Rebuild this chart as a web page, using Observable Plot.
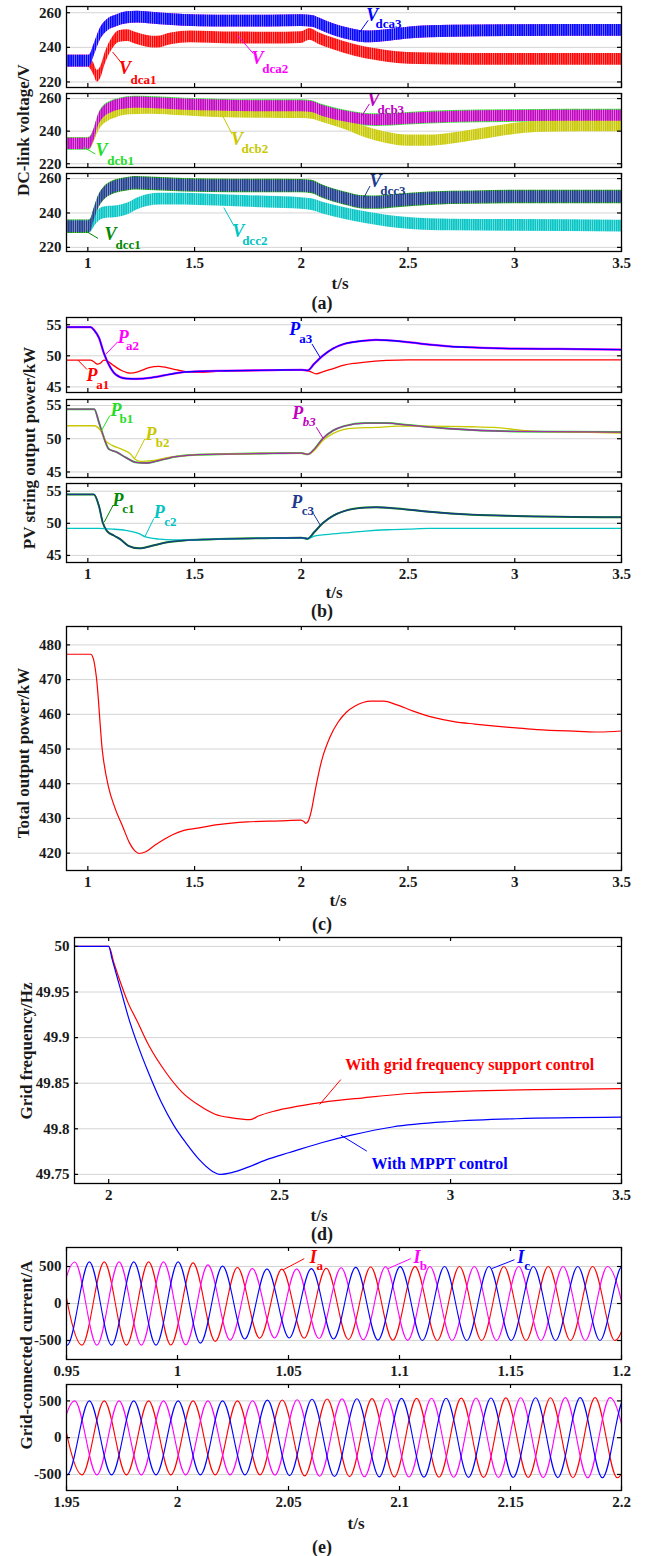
<!DOCTYPE html>
<html><head><meta charset="utf-8">
<script src="https://cdn.jsdelivr.net/npm/d3@7"></script>
<script src="https://cdn.jsdelivr.net/npm/@observablehq/plot@0.6"></script>
<style>
body{margin:0;background:#fff;}
#root{position:relative;width:649px;height:1556px;font-family:"Liberation Serif","Times New Roman",serif;font-weight:bold;color:#1a1a1a;overflow:hidden;}
.t{position:absolute;white-space:nowrap;transform:translate(-50%,-50%);line-height:1;}
.r{transform:translate(-50%,-50%) rotate(-90deg);}
</style></head>
<body><div id="root"></div>
<script>
// ---------------- DATA ----------------
const tickT = [1, 1.5, 2, 2.5, 3, 3.5];
const tickVdc = [220, 240, 260];
const tickP = [45, 50, 55];
const tickTotal = [420, 430, 440, 450, 460, 470, 480];
const tickFreq = [49.75, 49.8, 49.85, 49.9, 49.95, 50];
const tickTD = [2, 2.5, 3, 3.5];
const tickI = [-500, 0, 500];
const tickTE1 = [0.95, 1, 1.05, 1.1, 1.15, 1.2];
const tickTE2 = [1.95, 2, 2.05, 2.1, 2.15, 2.2];
const rippleVdc = 3.4; // half-width of DC-link ripple band (V)

// (a) DC-link voltages [t, V]
const vdca1 = [[0.9,232],[1.0,232],[1.009,231.5],[1.028,227.4],[1.044,223.3],[1.06,225.4],[1.083,234.2],[1.114,242],[1.145,246.2],[1.184,246.8],[1.23,245],[1.278,243.5],[1.325,243],[1.39,244.9],[1.48,246.1],[1.575,245.8],[1.7,245.4],[1.85,245.3],[2.0,245.6],[2.04,247.5],[2.08,245.2],[2.15,242],[2.25,238.3],[2.35,235.8],[2.45,234.1],[2.55,233.5],[2.8,233.1],[3.2,233],[3.5,233.1]];
const vdca2 = [[0.9,232],[1.0,232],[1.009,232.3],[1.028,238],[1.059,247.8],[1.09,252.6],[1.137,255.5],[1.184,257.1],[1.23,257.5],[1.34,256.5],[1.45,255.6],[1.6,255.2],[1.85,255.2],[2.0,255.4],[2.05,255],[2.1,252.7],[2.15,250.2],[2.2,248.3],[2.25,246.9],[2.3,246.1],[2.35,246.2],[2.4,246.8],[2.5,248.2],[2.7,249.3],[3.0,249.7],[3.5,249.8]];
const vdca3 = [[0.9,232],[1.0,232],[1.009,232.3],[1.028,238],[1.059,247.8],[1.09,252.6],[1.137,255.5],[1.184,257.1],[1.23,257.5],[1.34,256.5],[1.45,255.6],[1.6,255.2],[1.85,255.2],[2.0,255.4],[2.05,255],[2.1,252.7],[2.15,250.2],[2.2,248.3],[2.25,246.9],[2.3,246.1],[2.35,246.2],[2.4,246.8],[2.5,248.2],[2.7,249.3],[3.0,249.7],[3.5,249.8]];
const vdcb1 = [[0.9,232.2],[1.0,232.2],[1.009,232.5],[1.028,237.3],[1.05,246.6],[1.075,251.8],[1.106,254.4],[1.153,256.5],[1.216,257.5],[1.29,257.3],[1.45,256.3],[1.6,255.7],[1.84,255.3],[2.0,255.3],[2.05,254.8],[2.1,252.4],[2.2,249.1],[2.3,247],[2.35,246.7],[2.5,247.6],[2.7,248.7],[3.0,249.3],[3.5,249.5]];
const vdcb2 = [[0.9,232.2],[1.0,232.2],[1.02,234.2],[1.044,241.4],[1.067,246.6],[1.098,249.7],[1.137,251.8],[1.2,253.4],[1.29,253.8],[1.45,252.8],[1.6,251.8],[1.84,251.3],[2.0,251.1],[2.05,250.7],[2.1,248.7],[2.2,244.5],[2.3,239.4],[2.4,235.9],[2.5,234.2],[2.6,234.2],[2.7,235.3],[2.8,237.3],[2.9,239.4],[3.0,241.4],[3.1,242.5],[3.3,243.1],[3.5,243.1]];
const vdcb3 = [[0.9,232.2],[1.0,232.2],[1.009,232.5],[1.028,237.3],[1.05,246.6],[1.075,251.8],[1.106,254.4],[1.153,256.5],[1.216,257.5],[1.29,257.3],[1.45,256.3],[1.6,255.7],[1.84,255.3],[2.0,255.3],[2.05,254.8],[2.1,252.4],[2.2,249.1],[2.3,247],[2.35,246.7],[2.5,247.6],[2.7,248.7],[3.0,249.3],[3.5,249.5]];
const vdcc1 = [[0.9,232],[1.0,232],[1.0125,232.5],[1.028,238.3],[1.05,246.2],[1.075,251.1],[1.114,254.5],[1.17,256.4],[1.23,257.3],[1.29,257],[1.45,256.1],[1.68,255.7],[2.0,255.6],[2.05,255.1],[2.1,252.4],[2.2,248.5],[2.3,246.1],[2.35,246],[2.45,247],[2.6,248.3],[2.8,248.9],[3.0,249.3],[3.5,249.3]];
const vdcc2 = [[0.9,232],[1.0,232],[1.0125,232.3],[1.036,236.3],[1.06,239.3],[1.09,240.3],[1.1375,240.8],[1.184,242.2],[1.23,245.2],[1.278,247.2],[1.34,248],[1.45,248],[1.6,247.4],[1.84,246.3],[2.0,245.5],[2.05,244.8],[2.1,242.8],[2.2,239.8],[2.3,237.3],[2.4,235.3],[2.5,234],[2.7,233],[3.0,232.8],[3.5,232.4]];
const vdcc3 = [[0.9,232],[1.0,232],[1.0125,232.5],[1.028,238.3],[1.05,246.2],[1.075,251.1],[1.114,254.5],[1.17,256.4],[1.23,257.3],[1.29,257],[1.45,256.1],[1.68,255.7],[2.0,255.6],[2.05,255.1],[2.1,252.4],[2.2,248.5],[2.3,246.1],[2.35,246],[2.45,247],[2.6,248.3],[2.8,248.9],[3.0,249.3],[3.5,249.3]];

// (b) PV string output power [t, kW]
const pa1 = [[0.9,49.3],[1.0125,49.3],[1.03,49.0],[1.044,48.65],[1.06,48.85],[1.075,49.3],[1.09,49.2],[1.114,48.6],[1.16,47.6],[1.2,47.2],[1.24,47.5],[1.286,48.1],[1.333,48.3],[1.395,47.9],[1.458,47.45],[1.52,47.35],[1.6,47.5],[1.8,47.65],[2.0,47.7],[2.04,47.5],[2.07,47.1],[2.1,47.4],[2.15,47.95],[2.2,48.5],[2.25,48.8],[2.3,49.0],[2.4,49.25],[2.5,49.35],[3.5,49.35]];
const pa2 = [[0.9,54.6],[1.0125,54.6],[1.03,54.1],[1.052,52.9],[1.075,50.45],[1.098,48.6],[1.13,47.0],[1.177,46.35],[1.223,46.3],[1.3,46.5],[1.38,47.0],[1.44,47.35],[1.52,47.5],[1.645,47.6],[1.864,47.7],[2.0,47.75],[2.03,47.65],[2.06,48.7],[2.1,50.0],[2.15,51.2],[2.2,51.9],[2.3,52.45],[2.35,52.55],[2.4,52.5],[2.5,52.2],[2.6,51.8],[2.7,51.5],[2.8,51.35],[3.0,51.15],[3.2,51.1],[3.5,51.0]];
const pa3 = [[0.9,54.6],[1.0125,54.6],[1.03,54.1],[1.052,52.9],[1.075,50.45],[1.098,48.6],[1.13,47.0],[1.177,46.35],[1.223,46.3],[1.3,46.5],[1.38,47.0],[1.44,47.35],[1.52,47.5],[1.645,47.6],[1.864,47.7],[2.0,47.75],[2.03,47.65],[2.06,48.7],[2.1,50.0],[2.15,51.2],[2.2,51.9],[2.3,52.45],[2.35,52.55],[2.4,52.5],[2.5,52.2],[2.6,51.8],[2.7,51.5],[2.8,51.35],[3.0,51.15],[3.2,51.1],[3.5,51.0]];
const pb1 = [[0.9,54.45],[1.03,54.45],[1.052,52.45],[1.067,50.95],[1.083,49.45],[1.098,48.45],[1.13,48.05],[1.177,47.2],[1.223,46.45],[1.27,46.35],[1.33,46.7],[1.41,47.3],[1.49,47.55],[1.65,47.7],[1.87,47.8],[2.0,47.85],[2.03,47.65],[2.06,48.4],[2.1,50.0],[2.15,51.25],[2.2,51.9],[2.3,52.35],[2.4,52.35],[2.5,52.05],[2.7,51.5],[3.0,51.1],[3.5,51.0]];
const pb2 = [[0.9,51.95],[1.028,51.95],[1.06,51.2],[1.083,49.7],[1.114,49.0],[1.16,48.4],[1.2,47.7],[1.22,46.95],[1.247,46.6],[1.3,46.7],[1.38,47.2],[1.49,47.55],[1.65,47.7],[1.87,47.8],[2.0,47.8],[2.03,47.65],[2.06,48.2],[2.1,49.7],[2.15,50.8],[2.2,51.4],[2.25,51.6],[2.35,51.7],[2.45,51.9],[2.6,51.9],[2.8,51.8],[2.9,51.7],[3.1,51.1],[3.3,51.0],[3.5,50.85]];
const pb3 = [[0.9,54.45],[1.03,54.45],[1.052,52.45],[1.067,50.95],[1.083,49.45],[1.098,48.45],[1.13,48.05],[1.177,47.2],[1.223,46.45],[1.27,46.35],[1.33,46.7],[1.41,47.3],[1.49,47.55],[1.65,47.7],[1.87,47.8],[2.0,47.85],[2.03,47.65],[2.06,48.4],[2.1,50.0],[2.15,51.25],[2.2,51.9],[2.3,52.35],[2.4,52.35],[2.5,52.05],[2.7,51.5],[3.0,51.1],[3.5,51.0]];
const pc1 = [[0.9,54.5],[1.028,54.5],[1.052,52.7],[1.07,50.1],[1.09,48.8],[1.122,48.1],[1.153,47.5],[1.19,46.5],[1.24,46.1],[1.3,46.5],[1.364,47.0],[1.458,47.35],[1.567,47.5],[1.86,47.7],[2.0,47.75],[2.03,47.6],[2.06,48.6],[2.1,50.0],[2.15,51.2],[2.2,51.9],[2.3,52.45],[2.35,52.5],[2.45,52.3],[2.6,51.8],[2.8,51.35],[3.0,51.15],[3.5,50.95]];
const pc2 = [[0.9,49.2],[1.05,49.2],[1.114,49.1],[1.177,48.9],[1.24,48.4],[1.27,47.9],[1.333,47.55],[1.364,47.45],[1.45,47.4],[1.6,47.55],[1.86,47.7],[2.0,47.75],[2.03,47.6],[2.06,48.0],[2.1,48.2],[2.2,48.5],[2.3,48.8],[2.4,49.0],[2.5,49.1],[2.6,49.2],[3.5,49.2]];
const pc3 = [[0.9,54.5],[1.028,54.5],[1.052,52.7],[1.07,50.1],[1.09,48.8],[1.122,48.1],[1.153,47.5],[1.19,46.5],[1.24,46.1],[1.3,46.5],[1.364,47.0],[1.458,47.35],[1.567,47.5],[1.86,47.7],[2.0,47.75],[2.03,47.6],[2.06,48.6],[2.1,50.0],[2.15,51.2],[2.2,51.9],[2.3,52.45],[2.35,52.5],[2.45,52.3],[2.6,51.8],[2.8,51.35],[3.0,51.15],[3.5,50.95]];

// (c) total output power [t, kW]
const pTotal = [[0.9,477.3],[1.013,477.3],[1.025,476.2],[1.04,470.7],[1.068,449.5],[1.097,439],[1.126,433.2],[1.165,427.4],[1.194,423.1],[1.223,420.5],[1.242,419.9],[1.271,420.4],[1.31,422.1],[1.358,424],[1.397,425.3],[1.446,426.5],[1.514,427.2],[1.61,428.2],[1.746,429],[1.9,429.3],[1.998,429.5],[2.012,429.1],[2.021,428.6],[2.033,429.3],[2.047,432.2],[2.066,438.4],[2.095,446.6],[2.134,453.4],[2.172,457.7],[2.211,460.6],[2.25,462.3],[2.289,463.4],[2.327,463.8],[2.386,463.8],[2.444,462.8],[2.521,461],[2.618,459.1],[2.715,457.9],[2.812,457.2],[2.909,456.6],[3.006,456.1],[3.103,455.6],[3.297,455.1],[3.393,454.9],[3.5,455.2]];

// (d) grid frequency [t, Hz]
const fSupport = [[1.9,50],[2.0,50],[2.016,49.981],[2.034,49.961],[2.058,49.937],[2.082,49.919],[2.118,49.891],[2.167,49.862],[2.215,49.84],[2.263,49.826],[2.311,49.816],[2.36,49.812],[2.414,49.81],[2.438,49.814],[2.48,49.819],[2.529,49.823],[2.625,49.829],[2.746,49.834],[2.89,49.839],[3.072,49.8415],[3.253,49.843],[3.5,49.844]];
const fMppt = [[1.9,50],[2.0,50],[2.01,49.986],[2.022,49.97],[2.04,49.946],[2.058,49.922],[2.082,49.895],[2.118,49.86],[2.154,49.829],[2.19,49.804],[2.227,49.784],[2.263,49.767],[2.305,49.753],[2.323,49.75],[2.36,49.752],[2.408,49.758],[2.468,49.767],[2.529,49.774],[2.625,49.785],[2.71,49.793],[2.83,49.802],[3.0,49.808],[3.192,49.811],[3.5,49.8127]];

// (e) grid-connected currents: successive peaks/troughs [t, A]
const iaE1 = [[0.947,562],[0.957,-562],[0.967,562],[0.977,-562],[0.987,562],[0.997,-561],[1.007,549],[1.017,-512],[1.027,487],[1.037,-470],[1.047,465],[1.057,-470],[1.067,477],[1.077,-486],[1.087,493],[1.097,-497],[1.107,499],[1.117,-500],[1.127,500],[1.137,-500],[1.147,500],[1.157,-500],[1.167,500],[1.177,-500],[1.187,500],[1.197,-500],[1.207,500]];
const ibE1 = [[0.9437,-562],[0.9537,562],[0.9637,-562],[0.9737,562],[0.9837,-562],[0.9937,562],[1.0037,-558],[1.0137,522],[1.0237,-495],[1.0337,474],[1.0437,-466],[1.0537,468],[1.0637,-474],[1.0737,483],[1.0837,-491],[1.0937,496],[1.1037,-498],[1.1137,500],[1.1237,-500],[1.1337,500],[1.1437,-500],[1.1537,500],[1.1637,-500],[1.1737,500],[1.1837,-500],[1.1937,500],[1.2037,-500]];
const icE1 = [[0.9403,562],[0.9503,-562],[0.9603,562],[0.9703,-562],[0.9803,562],[0.9903,-562],[1.0003,562],[1.0103,-535],[1.0203,505],[1.0303,-480],[1.0403,468],[1.0503,-466],[1.0603,472],[1.0703,-480],[1.0803,489],[1.0903,-495],[1.1003,498],[1.1103,-500],[1.1203,500],[1.1303,-500],[1.1403,500],[1.1503,-500],[1.1603,500],[1.1703,-500],[1.1803,500],[1.1903,-500],[1.2003,500],[1.2103,-500]];
const iaE2 = [[1.947,500],[1.957,-505],[1.967,500],[1.977,-505],[1.987,500],[1.997,-505],[2.007,500],[2.017,-505],[2.027,500],[2.0372,-506],[2.0472,512],[2.0573,-519],[2.0674,526],[2.0775,-529],[2.0876,531],[2.0977,-534],[2.1077,535],[2.1178,-537],[2.1278,538],[2.1379,-540],[2.1479,541],[2.158,-542],[2.168,543],[2.1781,-544],[2.1881,545],[2.1981,-545],[2.2081,545]];
const ibE2 = [[1.9437,-505],[1.9537,500],[1.9637,-505],[1.9737,500],[1.9837,-505],[1.9937,500],[2.0037,-505],[2.0137,500],[2.0237,-505],[2.0338,503],[2.0439,-509],[2.0539,516],[2.064,-524],[2.0741,528],[2.0842,-531],[2.0943,533],[2.1043,-535],[2.1144,536],[2.1244,-538],[2.1345,539],[2.1446,-541],[2.1546,542],[2.1647,-543],[2.1747,544],[2.1848,-545],[2.1948,545],[2.2049,-545]];
const icE2 = [[1.9403,500],[1.9503,-505],[1.9603,500],[1.9703,-505],[1.9803,500],[1.9903,-505],[2.0003,500],[2.0103,-505],[2.0203,500],[2.0304,-505],[2.0405,510],[2.0505,-516],[2.0606,522],[2.0707,-527],[2.0808,530],[2.0909,-533],[2.1009,534],[2.111,-536],[2.121,537],[2.1311,-539],[2.1412,540],[2.1512,-541],[2.1613,542],[2.1713,-543],[2.1814,544],[2.1914,-545],[2.2015,545],[2.2115,-545]];

// ---------------- COLORS & LABELS ----------------
const RED = "#ff0000", BLUE = "#0000ff", MAG = "#ff00ff", LIME = "#22dd22", YEL = "#c8c800",
      PUR = "#c000c0", DGRN = "#008800", CYAN = "#00c4c4", NAVY = "#1c3a8c";

const labelsA1 = [
  {main:"V", sub:"dca1", color:RED,  m:[1.174,227.7], s:[1.261,221.5], p:[1.116,237.3,1.160,230.6]},
  {main:"V", sub:"dca2", color:MAG,  m:[1.795,233.5], s:[1.878,227.7], p:[1.701,246.9,1.776,236.3]},
  {main:"V", sub:"dca3", color:BLUE, m:[2.332,258.5], s:[2.409,253.3], p:[2.274,248.8,2.313,255.6]}
];
const labelsA2 = [
  {main:"V", sub:"dcb1", color:LIME, m:[1.064,228.0], s:[1.154,221.9], p:[0.981,230.1,1.035,226.0]},
  {main:"V", sub:"dcb2", color:YEL,  m:[1.699,235.3], s:[1.782,229.1], p:[1.631,249.5,1.676,238.1]},
  {main:"V", sub:"dcb3", color:PUR,  m:[2.338,259.0], s:[2.419,252.8], p:[2.284,249.5,2.319,256.7]}
];
const labelsA3 = [
  {main:"V", sub:"dcc1", color:DGRN, m:[1.106,227.6], s:[1.189,221.2], p:[0.990,229.5,1.048,225.2]},
  {main:"V", sub:"dcc2", color:CYAN, m:[1.705,229.5], s:[1.782,223.7], p:[1.637,243.1,1.685,232.4]},
  {main:"V", sub:"dcc3", color:NAVY, m:[2.347,258.6], s:[2.429,252.8], p:[2.293,248.9,2.322,255.7]}
];
const labelsB1 = [
  {main:"P", sub:"a1", color:RED,  m:[1.019,46.9], s:[1.070,45.3], p:[0.954,49.3,0.996,47.8]},
  {main:"P", sub:"a2", color:MAG,  m:[1.166,53.0], s:[1.209,51.65], p:[1.083,50.2,1.141,52.3]},
  {main:"P", sub:"a3", color:BLUE, m:[1.969,54.2], s:[2.021,52.7], p:[2.089,49.7,2.050,51.9]}
];
const labelsB2 = [
  {main:"P", sub:"b1", color:LIME, m:[1.132,54.23], s:[1.180,52.98], p:[1.064,51.23,1.103,53.48]},
  {main:"P", sub:"b2", color:YEL,  m:[1.296,50.73], s:[1.350,49.38], p:[1.219,46.98,1.267,49.98]},
  {main:"P", sub:"b3", color:PUR,  m:[1.983,53.89], s:[2.037,52.48], p:[2.104,49.98,2.070,51.73], italic:true}
];
const labelsB3 = [
  {main:"P", sub:"c1", color:DGRN, m:[1.141,53.6], s:[1.190,52.2], p:[1.077,50.2,1.118,52.8]},
  {main:"P", sub:"c2", color:CYAN, m:[1.335,51.8], s:[1.387,50.3], p:[1.267,47.9,1.309,50.75]},
  {main:"P", sub:"c3", color:NAVY, m:[1.979,53.3], s:[2.031,51.9], p:[2.089,49.7,2.056,51.55]}
];
const labelsE1 = [
  {main:"I", sub:"a", color:RED,  m:[1.0612,627], s:[1.0641,515], p:[1.0477,457,1.0571,606]},
  {main:"I", sub:"b", color:MAG,  m:[1.1079,627], s:[1.1108,515], p:[1.0948,471,1.1051,606]},
  {main:"I", sub:"c", color:BLUE, m:[1.1546,627], s:[1.1575,508], p:[1.1415,471,1.1518,592]}
];
const notesD = [
  {text:"With grid frequency support control", color:RED,  m:[3.056,49.8703], p:[2.679,49.854,2.617,49.8266]},
  {text:"With MPPT control", color:BLUE, m:[2.968,49.762], p:[2.755,49.7755,2.679,49.793]}
];

// ---------------- DRAWING ----------------
const root = document.getElementById("root");
const FONT = '"Liberation Serif","Times New Roman",serif';

// ripple texture patterns (vertical stripes, opaque tint between stripes)
const patColors = {red: RED, mag: MAG, blue: BLUE, lime: LIME, yel: YEL, pur: PUR, dgrn: DGRN, cyan: CYAN, navy: NAVY};
const defsSvg = document.createElementNS("http://www.w3.org/2000/svg", "svg");
defsSvg.setAttribute("width", "0"); defsSvg.setAttribute("height", "0");
defsSvg.style.position = "absolute";
defsSvg.innerHTML = "<defs>" + Object.entries(patColors).map(([k, c]) => {
  const tint = d3.interpolateRgb(c, "#ffffff")(0.5);
  return `<pattern id="rip-${k}" patternUnits="userSpaceOnUse" width="2.2" height="4">` +
    `<rect width="2.2" height="4" fill="${tint}"/><rect width="1.4" height="4" fill="${c}"/></pattern>`;
}).join("") + "</defs>";
root.appendChild(defsSvg);
const pat = k => `url(#rip-${k})`;

function band(series, key, r) {
  return Plot.areaY(series, {x: d => d[0], y1: d => d[1] - r, y2: d => d[1] + r,
    fill: pat(key), curve: "monotone-x", clip: true});
}
function line(series, color, w) {
  return Plot.line(series, {x: d => d[0], y: d => d[1], stroke: color, strokeWidth: w,
    curve: "monotone-x", clip: true});
}
function labelMarks(list) {
  return list.flatMap(l => [
    Plot.link([l], {x1: d => d.p[0], y1: d => d.p[1], x2: d => d.p[2], y2: d => d.p[3], stroke: l.color, strokeWidth: 1}),
    Plot.text([l], {x: d => d.m[0], y: d => d.m[1], text: d => d.main, fill: l.color, fontSize: 18,
      fontStyle: "italic", fontWeight: "bold", textAnchor: "middle", lineAnchor: "middle"}),
    Plot.text([l], {x: d => d.s[0], y: d => d.s[1], text: d => d.sub, fill: l.color, fontSize: 13,
      fontStyle: l.italic ? "italic" : "normal", fontWeight: "bold", textAnchor: "middle", lineAnchor: "middle"})
  ]);
}

function panel({top, bottom, left = 66, right = 621, xDomain, yDomain, xTicks, yTicks, xLabels, marks}) {
  const mt = 3, mb = xLabels ? 26 : 3;
  const ih = bottom - top, iw = right - left;
  const fmt = d => String(d);
  const svg = Plot.plot({
    width: 649, height: ih + mt + mb,
    marginLeft: left, marginRight: 649 - right, marginTop: mt, marginBottom: mb,
    x: {domain: xDomain}, y: {domain: yDomain},
    style: {fontFamily: FONT, fontSize: "15px", fontWeight: "bold", color: "#1a1a1a", background: "transparent", overflow: "visible"},
    marks: [
      Plot.gridY(yTicks, {stroke: "#d4d4d4", strokeOpacity: 1, strokeWidth: 1}),
      ...marks,
      Plot.tickX(xTicks, {x: d => d, insetTop: ih - 4, stroke: "#000", strokeWidth: 1.2}),
      Plot.tickX(xTicks, {x: d => d, insetBottom: ih - 4, stroke: "#000", strokeWidth: 1.2}),
      Plot.tickY(yTicks, {y: d => d, insetRight: iw - 4, stroke: "#000", strokeWidth: 1.2}),
      Plot.tickY(yTicks, {y: d => d, insetLeft: iw - 4, stroke: "#000", strokeWidth: 1.2}),
      Plot.frame({stroke: "#000", strokeWidth: 1.3}),
      Plot.axisY(yTicks, {anchor: "left", tickSize: 0, tickPadding: 5, tickFormat: fmt, label: null, fontSize: 15}),
      xLabels
        ? Plot.axisX(xTicks, {anchor: "bottom", tickSize: 0, tickPadding: 6, tickFormat: fmt, label: null, fontSize: 15})
        : Plot.axisX([], {anchor: "bottom", tickSize: 0, label: null})
    ]
  });
  svg.style.position = "absolute";
  svg.style.left = "0px";
  svg.style.top = (top - mt) + "px";
  root.appendChild(svg);
}

function htmlText(txt, x, y, size, rot) {
  const d = document.createElement("div");
  d.className = "t" + (rot ? " r" : "");
  d.textContent = txt;
  d.style.left = x + "px";
  d.style.top = y + "px";
  d.style.fontSize = size + "px";
  root.appendChild(d);
}

const TA = [0.9, 3.5];
const R = rippleVdc;

// (a)
panel({top: 6, bottom: 87, xDomain: TA, yDomain: [216.8, 263.6], xTicks: tickT, yTicks: tickVdc, xLabels: false,
  marks: [band(vdca1, "red", R), band(vdca2, "mag", R), band(vdca3, "blue", R), ...labelMarks(labelsA1)]});
panel({top: 93, bottom: 167, xDomain: TA, yDomain: [217.7, 263.1], xTicks: tickT, yTicks: tickVdc, xLabels: false,
  marks: [band(vdcb1, "lime", R + 0.5), band(vdcb2, "yel", R), band(vdcb3, "pur", R), ...labelMarks(labelsA2)]});
panel({top: 173, bottom: 251, xDomain: TA, yDomain: [217.6, 262.95], xTicks: tickT, yTicks: tickVdc, xLabels: true,
  marks: [band(vdcc1, "dgrn", R + 0.5), band(vdcc2, "cyan", R), band(vdcc3, "navy", R), ...labelMarks(labelsA3)]});

// (b)
panel({top: 317, bottom: 392, xDomain: TA, yDomain: [44.1, 56.16], xTicks: tickT, yTicks: tickP, xLabels: false,
  marks: [line(pa1, RED, 1.3), line(pa2, MAG, 2.2), line(pa3, BLUE, 1.3), ...labelMarks(labelsB1)]});
panel({top: 399, bottom: 477, xDomain: TA, yDomain: [44.17, 55.9], xTicks: tickT, yTicks: tickP, xLabels: false,
  marks: [line(pb1, LIME, 2.0), line(pb2, YEL, 1.3), line(pb3, "#a030a8", 1.3), ...labelMarks(labelsB2)]});
panel({top: 483, bottom: 562, xDomain: TA, yDomain: [43.9, 56.2], xTicks: tickT, yTicks: tickP, xLabels: true,
  marks: [line(pc1, DGRN, 2.0), line(pc2, CYAN, 1.3), line(pc3, NAVY, 1.3), ...labelMarks(labelsB3)]});

// (c)
panel({top: 626, bottom: 870, xDomain: TA, yDomain: [415.0, 485.3], xTicks: tickT, yTicks: tickTotal, xLabels: true,
  marks: [line(pTotal, RED, 1.2)]});

// (d)
panel({top: 937, bottom: 1183, left: 74, xDomain: [1.9, 3.5], yDomain: [49.74, 50.0098], xTicks: tickTD, yTicks: tickFreq, xLabels: true,
  marks: [
    line(fSupport, RED, 1.2), line(fMppt, BLUE, 1.2),
    ...notesD.flatMap(n => [
      Plot.link([n], {x1: d => d.p[0], y1: d => d.p[1], x2: d => d.p[2], y2: d => d.p[3], stroke: n.color, strokeWidth: 1}),
      Plot.text([n], {x: d => d.m[0], y: d => d.m[1], text: d => d.text, fill: n.color, fontSize: 16, fontWeight: "bold", textAnchor: "middle", lineAnchor: "middle"})
    ])
  ]});

// (e)
panel({top: 1247, bottom: 1359, xDomain: [0.95, 1.2], yDomain: [-757, 757], xTicks: tickTE1, yTicks: tickI, xLabels: true,
  marks: [line(iaE1, RED, 1.1), line(ibE1, MAG, 1.1), line(icE1, BLUE, 1.1), ...labelMarks(labelsE1)]});
panel({top: 1384, bottom: 1490, xDomain: [1.95, 2.2], yDomain: [-718, 723], xTicks: tickTE2, yTicks: tickI, xLabels: true,
  marks: [line(iaE2, RED, 1.1), line(ibE2, MAG, 1.1), line(icE2, BLUE, 1.1)]});

// titles and captions
htmlText("DC-link voltage/V", 22.5, 130, 17, true);
htmlText("t/s", 340, 283, 17);
htmlText("(a)", 322, 303, 18);
htmlText("PV string output power/kW", 29, 448, 17, true);
htmlText("t/s", 334, 592, 17);
htmlText("(b)", 322, 611, 18);
htmlText("Total output power/kW", 23, 753, 17, true);
htmlText("t/s", 338, 900, 17);
htmlText("(c)", 322, 924, 18);
htmlText("Grid frequency/Hz", 25.5, 1051, 17, true);
htmlText("t/s", 319, 1215, 17);
htmlText("(d)", 322, 1234, 18);
htmlText("Grid-connected current/A", 25.5, 1355, 17, true);
htmlText("t/s", 356, 1523, 17);
htmlText("(e)", 322, 1547, 18);
</script>
</body></html>
